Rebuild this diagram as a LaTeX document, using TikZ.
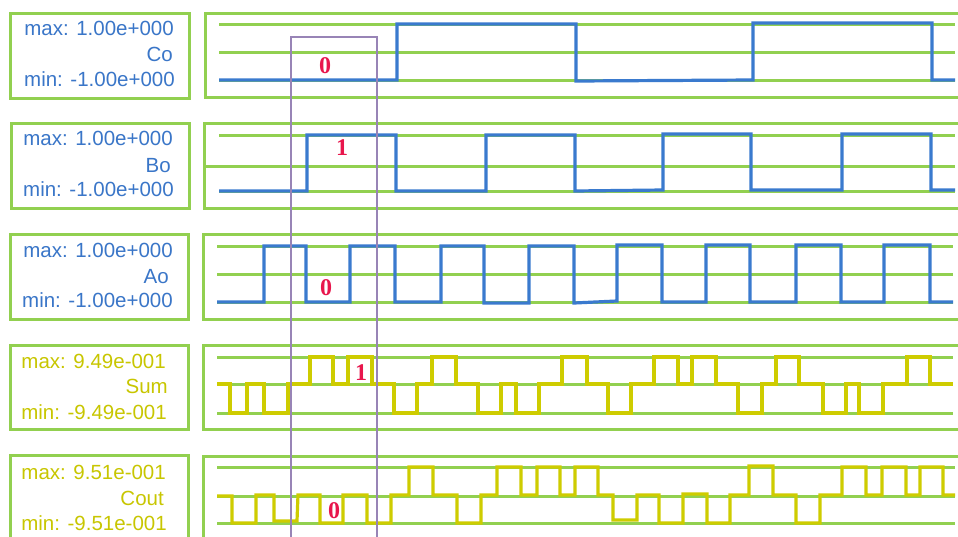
\documentclass[tikz,border=0pt]{standalone}
\usepackage{fontspec}
\setmainfont{Liberation Sans}
\newfontfamily\digitfont{Liberation Serif}
\definecolor{gridgreen}{RGB}{146,208,80}
\definecolor{waveblue}{RGB}{58,122,206}
\definecolor{txtblue}{RGB}{58,118,200}
\definecolor{waveyellow}{RGB}{206,204,0}
\definecolor{txtyellow}{RGB}{200,198,0}
\definecolor{markpurple}{RGB}{152,132,182}
\definecolor{markred}{RGB}{232,22,76}
\begin{document}
\begin{tikzpicture}[x=1pt,y=-1pt,
  frame/.style={draw=gridgreen,line width=3pt},
  gridline/.style={draw=gridgreen,line width=3pt},
  bluewave/.style={draw=waveblue,line width=3.2pt,line join=miter},
  yelwave/.style={draw=waveyellow,line width=3.2pt,line join=miter},
  marker/.style={draw=markpurple,line width=2.4pt},
  bluetxt/.style={text=txtblue,font=\fontsize{20.5}{24}\selectfont,inner sep=0pt,anchor=base east},
  yeltxt/.style={text=txtyellow,font=\fontsize{20.5}{24}\selectfont,inner sep=0pt,anchor=base east},
  bit/.style={text=markred,font=\digitfont\bfseries\fontsize{24}{26}\selectfont,inner sep=0pt}]
\useasboundingbox (0,0) rectangle (958,536);
\clip (0,0) rectangle (958,536);
\fill[white] (0,0) rectangle (958,536);

% label boxes
\draw[frame] (10,13) rectangle (189,98);
\draw[frame] (11,123) rectangle (189,208);
\draw[frame] (10,234) rectangle (188,319);
\draw[frame] (10,345) rectangle (188,429);
\draw[frame] (10,455) rectangle (188,548);

% label texts
\node[bluetxt] (c1) at (174,35) {max: 1.00e+000};
\node[bluetxt] (c2) at (173,61) {Co};
\node[bluetxt] (c3) at (175,86) {min: -1.00e+000};
\node[bluetxt] (b1) at (173,145) {max: 1.00e+000};
\node[bluetxt] (b2) at (171,172) {Bo};
\node[bluetxt] (b3) at (174,196) {min: -1.00e+000};
\node[bluetxt] (a1) at (173,257) {max: 1.00e+000};
\node[bluetxt] (a2) at (169,283) {Ao};
\node[bluetxt] (a3) at (173,307) {min: -1.00e+000};
\node[yeltxt] (s1) at (166,368) {max: 9.49e-001};
\node[yeltxt] (s2) at (168,393) {Sum};
\node[yeltxt] (s3) at (167,419) {min: -9.49e-001};
\node[yeltxt] (o1) at (166,479) {max: 9.51e-001};
\node[yeltxt] (o2) at (164,505) {Cout};
\node[yeltxt] (o3) at (167,530) {min: -9.51e-001};

% wave frames
\draw[frame] (205,13) rectangle (968,97);
\draw[frame] (204,123) rectangle (968,208);
\draw[frame] (203,234) rectangle (968,319);
\draw[frame] (203,345) rectangle (968,429);
\draw[frame] (203,456) rectangle (968,548);

% grid lines
\foreach \y in {24,52,80} \draw[gridline] (219,\y) -- (955,\y);
\draw[gridline] (219,135) -- (955,135);
\draw[gridline] (204,166) -- (955,166);
\draw[gridline] (219,191) -- (955,191);
\foreach \y in {246,274,302} \draw[gridline] (217,\y) -- (953,\y);
\foreach \y in {357,384,413} \draw[gridline] (217,\y) -- (953,\y);
\foreach \y in {467,496,523} \draw[gridline] (217,\y) -- (955,\y);

% Co
\draw[bluewave] (219,80) -- (397,80) -- (397,24) -- (576,24) -- (576,81) -- (753,80) -- (753,23) -- (932,23) -- (932,80) -- (955,80);
% Bo
\draw[bluewave] (219,191) -- (307,191) -- (307,135) -- (396,135) -- (396,191) -- (486,191) -- (486,135) -- (575,135) -- (575,191) -- (663,190) -- (663,134) -- (751,134) -- (751,190) -- (842,190) -- (842,134) -- (931,134) -- (931,190) -- (955,190);
% Ao
\draw[bluewave] (217,302) -- (264,302) -- (264,246) -- (306,246) -- (306,302) -- (350,302) -- (350,246) -- (395,246) -- (395,302) -- (441,302) -- (441,246) -- (484,246) -- (484,303) -- (529,303) -- (529,246) -- (574,246) -- (574,303) -- (617,301) -- (617,245) -- (662,245) -- (662,302) -- (706,302) -- (706,245) -- (750,245) -- (750,302) -- (796,302) -- (796,245) -- (841,245) -- (841,302) -- (884,302) -- (884,245) -- (930,245) -- (930,302) -- (953,302);
% Sum
\draw[yelwave] (217,384) -- (230,384) -- (230,413) -- (247,413) -- (247,384) -- (264,384) -- (264,413) -- (288,413) -- (288,384) -- (310,384) -- (310,357) -- (333,357) -- (333,384) -- (348,384) -- (348,357) -- (372,357) -- (372,384) -- (394,384) -- (394,413) -- (417,413) -- (417,384) -- (432,384) -- (432,357) -- (456,357) -- (456,384) -- (478,384) -- (478,413) -- (501,413) -- (501,384) -- (516,384) -- (516,413) -- (539,413) -- (539,384) -- (562,384) -- (562,357) -- (587,357) -- (587,384) -- (608,384) -- (608,413) -- (631,413) -- (631,384) -- (654,384) -- (654,357) -- (678,357) -- (678,384) -- (692,384) -- (692,357) -- (716,357) -- (716,384) -- (738,384) -- (738,413) -- (762,413) -- (762,384) -- (776,384) -- (776,357) -- (799,357) -- (799,384) -- (823,384) -- (823,413) -- (846,413) -- (846,384) -- (859,384) -- (859,413) -- (883,413) -- (883,384) -- (907,384) -- (907,357) -- (930,357) -- (930,384) -- (953,384);
% Cout
\draw[yelwave] (217,496) -- (232,496) -- (232,523) -- (256,523) -- (256,495) -- (274,495) -- (274,521) -- (297,521) -- (298,495) -- (320,495) -- (320,523) -- (343,523) -- (343,495) -- (367,495) -- (367,523) -- (391,523) -- (391,495) -- (409,495) -- (409,467) -- (433,467) -- (433,495) -- (457,495) -- (457,523) -- (481,523) -- (481,495) -- (497,495) -- (497,467) -- (521,467) -- (521,495) -- (537,495) -- (537,467) -- (560,467) -- (560,495) -- (575,495) -- (575,467) -- (598,467) -- (598,495) -- (613,495) -- (613,520) -- (637,520) -- (637,495) -- (659,495) -- (659,523) -- (683,523) -- (683,494) -- (707,494) -- (707,523) -- (730,523) -- (730,495) -- (749,495) -- (749,466) -- (773,466) -- (773,495) -- (796,495) -- (796,523) -- (820,523) -- (820,495) -- (842,495) -- (842,467) -- (866,467) -- (866,495) -- (882,495) -- (882,467) -- (906,467) -- (906,495) -- (920,495) -- (920,467) -- (943,467) -- (943,495) -- (955,495);

% purple marker
\coordinate (mL) at (291,545);
\coordinate (mR) at (377,545);
\draw[marker] (mL) -- (291,37) -- (377,37) -- (mR);

% bit values
\node[bit] (v1) at (325,66) {0};
\node[bit] (v2) at (342,148) {1};
\node[bit] (v3) at (326,288) {0};
\node[bit] (v4) at (361,373) {1};
\node[bit] (v5) at (334,511) {0};
\end{tikzpicture}
\end{document}
